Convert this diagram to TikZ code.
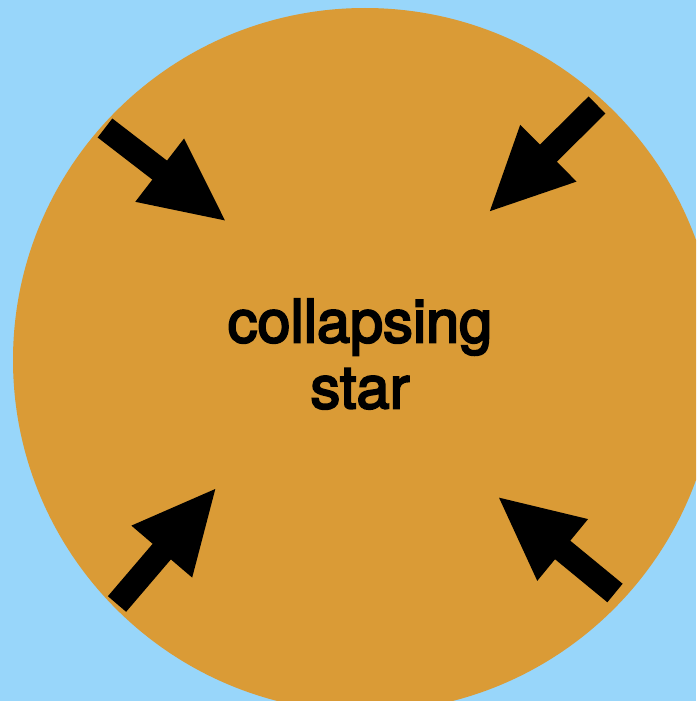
\documentclass[tikz,border=0pt]{standalone}
\usepackage{fontspec}
\setmainfont{TeX Gyre Heros}
\newfontfamily\labelfont{TeX Gyre Heros}[FakeBold=3.5]
\usetikzlibrary{arrows.meta}
\definecolor{skyblue}{RGB}{152,214,250}
\definecolor{starorange}{RGB}{218,155,54}

\begin{document}
\begin{tikzpicture}[
    x=1pt, y=-1pt,
    push/.style={line width=24pt, -{Triangle[length=85pt, width=73pt]}}
]
    \fill[skyblue] (0,0) rectangle (696,701);
    \useasboundingbox (0,0) rectangle (696,701);
    \begin{scope}
        \clip (0,0) rectangle (696,701);
        \node[circle, fill=starorange, minimum size=704pt, inner sep=0pt] (star) at (365,360) {};
    \end{scope}

    \node[font=\labelfont\fontsize{59.5}{66}\selectfont, align=center, inner sep=0pt] (label) at (360,354) {collapsing\\star};

    \coordinate (tl0) at (105,128);
    \coordinate (tl1) at (227,222);
    \coordinate (tr0) at (597,105);
    \coordinate (tr1) at (488,213);
    \coordinate (bl0) at (117,604);
    \coordinate (bl1) at (217,487);
    \coordinate (br0) at (615,593);
    \coordinate (br1) at (497,496);

    \draw[push] (tl0) -- (tl1);
    \draw[push] (tr0) -- (tr1);
    \draw[push] (bl0) -- (bl1);
    \draw[push] (br0) -- (br1);
\end{tikzpicture}
\end{document}
